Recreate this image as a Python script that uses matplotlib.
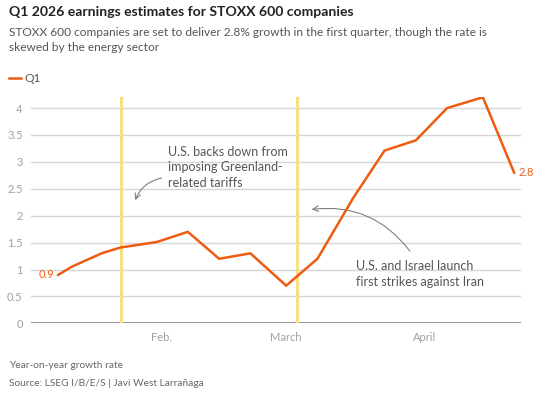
#!/usr/bin/env python3
'''Q1 2026 earnings estimates for STOXX 600 companies'''
import matplotlib
matplotlib.use('Agg')
import matplotlib.pyplot as plt
import numpy as np

plt.rcParams['font.family'] = ['Lato', 'DejaVu Sans']

# data (year-on-year growth estimate, %)
dates = np.array(['2026-01-09', '2026-01-12', '2026-01-16', '2026-01-19',
                  '2026-01-23', '2026-01-31', '2026-02-07', '2026-02-14',
                  '2026-02-21', '2026-03-01', '2026-03-08', '2026-03-16',
                  '2026-03-23', '2026-03-30', '2026-04-06', '2026-04-14',
                  '2026-04-21'], dtype='datetime64[h]')
q1 = [0.9, 1.05, 1.2, 1.31, 1.41, 1.51, 1.7, 1.2, 1.3, 0.7, 1.2, 2.33,
      3.21, 3.4, 4.0, 4.2, 2.8]
events = np.array(['2026-01-23', '2026-03-03T12'], dtype='datetime64[h]')
month_ticks = np.array(['2026-02-01', '2026-03-01', '2026-04-01'], dtype='datetime64[D]')
month_labels = ['Feb.', 'March', 'April']
yticks = np.arange(0, 4.01, 0.5)
ylabels = ['0', '0.5', '1', '1.5', '2', '2.5', '3', '3.5', '4']

orange = '#ee5c12'
grey_txt = '#555555'
tick_col = '#a0a0a0'

fig = plt.figure(figsize=(5.5, 3.93), dpi=100)
ax = fig.add_axes([0.0564, 0.1773, 0.8906, 0.5751])

# grid and baseline
for y in yticks[1:]:
    ax.axhline(y, color='#d6d6d6', lw=1, zorder=1)
ax.axhline(0, color='#8c8c8c', lw=1.3, zorder=2)

# event lines
for d in events:
    ax.axvline(d, color='#fbdc78', lw=2.0, zorder=2)

ax.plot(dates, q1, color=orange, lw=1.8, zorder=4, solid_joinstyle='miter')

# end labels
ax.annotate(f'{q1[0]:g}', (dates[0], q1[0]), xytext=(-3, 0), textcoords='offset points',
            ha='right', va='center', color=orange, fontsize=8)
ax.annotate(f'{q1[-1]:g}', (dates[-1], q1[-1]), xytext=(3, 0), textcoords='offset points',
            ha='left', va='center', color=orange, fontsize=8, annotation_clip=False)

ax.set_xlim(np.datetime64('2026-01-02T22'), np.datetime64('2026-04-22T12'))
ax.set_ylim(0, 4.2)
ax.set_yticks(yticks, ylabels)
ax.set_xticks(month_ticks, month_labels)
ax.tick_params(length=0, labelsize=8, colors=tick_col)
ax.tick_params(axis='y', pad=6)
ax.tick_params(axis='x', pad=6)
for s in ax.spines.values():
    s.set_visible(False)

# annotations
ax.text(np.datetime64('2026-02-02T14'), 2.9,
        'U.S. backs down from\nimposing Greenland-\nrelated tariffs',
        ha='left', va='center', fontsize=9, color=grey_txt, linespacing=1.35)
ax.annotate('', xy=(np.datetime64('2026-01-26'), 2.24),
            xytext=(np.datetime64('2026-02-01T18'), 2.71),
            arrowprops=dict(arrowstyle='->', color='#808080', lw=0.8,
                            connectionstyle='arc3,rad=0.3'))
ax.text(np.datetime64('2026-03-16T14'), 0.92,
        'U.S. and Israel launch\nfirst strikes against Iran',
        ha='left', va='center', fontsize=9, color=grey_txt, linespacing=1.35)
ax.annotate('', xy=(np.datetime64('2026-03-06T02'), 2.11),
            xytext=(np.datetime64('2026-03-29T01'), 1.30),
            arrowprops=dict(arrowstyle='->', color='#808080', lw=0.8,
                            connectionstyle='arc3,rad=0.3'))

# header
fig.text(9/550, 1 - 12/393, 'Q1 2026 earnings estimates for STOXX 600 companies',
         fontsize=10.1, fontweight='bold', color='#222222', va='center')
fig.text(9/550, 1 - 40/393,
         'STOXX 600 companies are set to deliver 2.8% growth in the first quarter, though the rate is\n'
         'skewed by the energy sector',
         fontsize=8.6, color=grey_txt, va='center', linespacing=1.5)
fig.add_artist(plt.Line2D([9/550, 21/550], [1 - 78/393] * 2, color=orange, lw=1.8))
fig.text(24/550, 1 - 78/393, 'Q1', fontsize=8.6, color=grey_txt, va='center')

# footer
fig.text(9/550, 1 - 366/393, 'Year-on-year growth rate', fontsize=7.3,
         color='#666666', va='center')
fig.text(9/550, 1 - 384/393, 'Source: LSEG I/B/E/S | Javi West Larrañaga', fontsize=7.3,
         color='#666666', va='center')

fig.savefig('out.png', dpi=100)
